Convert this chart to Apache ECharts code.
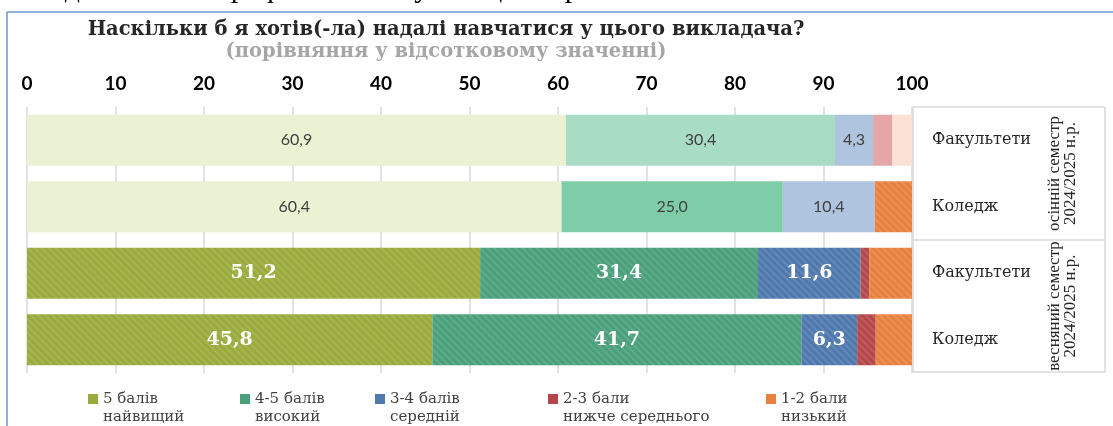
<!DOCTYPE html>
<html>
<head>
<meta charset="utf-8">
<script src="https://cdn.jsdelivr.net/npm/echarts@6/dist/echarts.min.js"></script>
<style>
  html, body { margin: 0; padding: 0; background: #fff; }
  #chart { width: 1113px; height: 426px; }
</style>
</head>
<body>
<div id="chart"></div>
<script>
// категорії (рядки зверху вниз)
const rowLabels = ['Факультети', 'Коледж', 'Факультети', 'Коледж']
const semesters = ['осінній семестр\n2024/2025 н.р.', 'весняний семестр\n2024/2025 н.р.']
const xTicks = [0, 10, 20, 30, 40, 50, 60, 70, 80, 90, 100]

// оцінки
const grades = [
  '5 балів\nнайвищий',
  '4-5 балів\nвисокий',
  '3-4 балів\nсередній',
  '2-3 бали\nнижче середнього',
  '1-2 бали\nнизький'
]
const grade5 = [60.9, 60.4, 51.2, 45.8]
const grade45 = [30.4, 25.0, 31.4, 41.7]
const grade34 = [4.3, 10.4, 11.6, 6.3]
const grade23 = [2.2, 0, 1.0, 2.1]
const grade12 = [2.2, 4.2, 4.8, 4.1]
const values = [grade5, grade45, grade34, grade23, grade12]

// кольори
const springColors = ['#9aab3b', '#4aa07a', '#4f78ad', '#b5474a', '#e8813f']
const autumnFacultyColors = ['#ebf1d3', '#a9dcc5', '#aec4df', '#e4a6a6', '#f9e1d3']
const autumnCollegeColors = ['#ebf1d3', '#7fcca8', '#aec4df', '#e4a6a6', '#e8813f']
const rowColors = [autumnFacultyColors, autumnCollegeColors, springColors, springColors]

const stripes = {
  symbol: 'rect',
  symbolSize: 1,
  color: 'rgba(255,255,255,0.12)',
  dashArrayX: [1, 0],
  dashArrayY: [2, 3],
  rotation: Math.PI / 4
}

const fmt = v => v.toFixed(1).replace('.', ',')

const chart = echarts.init(document.getElementById('chart'))

const series = grades.map((name, s) => ({
  name: name,
  type: 'bar',
  stack: 'total',
  barWidth: 51,
  color: springColors[s],
  data: values[s].map((v, r) => {
    const spring = r >= 2
    const hatched = spring || rowColors[r][s] === '#e8813f'
    return {
      value: v,
      itemStyle: {
        color: rowColors[r][s],
        decal: hatched ? stripes : null
      },
      label: {
        show: s < 3,
        formatter: p => fmt(p.value),
        color: spring ? '#fff' : '#404040',
        fontFamily: spring ? 'DejaVu Serif' : 'Lato',
        fontWeight: spring ? 'bold' : 'normal',
        fontSize: spring ? 19 : 16
      }
    }
  })
}))

const legends = grades.map((name, i) => ({
  data: [name],
  left: [88, 240, 375, 548, 766][i],
  top: 390,
  padding: 0,
  itemWidth: 10,
  itemHeight: 28,
  icon: 'path://M0,0H10V10H0Z M0,28',
  textStyle: {
    fontFamily: 'DejaVu Serif',
    fontSize: 15,
    lineHeight: 18,
    color: '#404040'
  }
}))

const gL = 913, gR = 1105, gT = 107, gM = 240, gB = 372
const boxLine = (x1, y1, x2, y2) => ({
  type: 'line',
  shape: { x1, y1, x2, y2 },
  style: { stroke: '#d9d9d9', lineWidth: 1.5 }
})

chart.setOption({
  backgroundColor: '#fff',
  animation: false,
  title: {
    text: 'Наскільки б я хотів(-ла) надалі навчатися у цього викладача?',
    subtext: '(порівняння у відсотковому значенні)',
    left: 446,
    top: 20,
    textAlign: 'center',
    padding: 0,
    itemGap: 2,
    textStyle: { fontFamily: 'DejaVu Serif', fontWeight: 'bold', fontSize: 19.5, color: '#262626' },
    subtextStyle: { fontFamily: 'DejaVu Serif', fontWeight: 'bold', fontSize: 19.5, color: '#a6a6a6' }
  },
  legend: legends,
  grid: { left: 27, right: 201, top: 107, bottom: 53 },
  xAxis: {
    type: 'value',
    position: 'top',
    min: xTicks[0],
    max: xTicks[xTicks.length - 1],
    interval: 10,
    axisLine: { show: false },
    axisTick: { show: false },
    axisLabel: { margin: 14, fontFamily: 'Lato', fontWeight: 'bold', fontSize: 19, color: '#000' },
    splitLine: { lineStyle: { color: '#d9d9d9', width: 1.5 } }
  },
  yAxis: {
    type: 'category',
    inverse: true,
    position: 'right',
    data: rowLabels,
    axisLine: { show: false },
    axisTick: { show: false },
    axisLabel: { margin: 20, align: 'left', fontFamily: 'DejaVu Serif', fontSize: 16, color: '#262626' }
  },
  graphic: [
    {
      type: 'text', x: -2, y: -11,
      style: { text: 'ання до чинного професіоналізму та оцінки роботи.', font: '30px "Liberation Serif"', fill: '#000', verticalAlign: 'middle' }
    },
    { type: 'line', shape: { x1: 7, y1: 12, x2: 1113, y2: 12 }, style: { stroke: '#6f95d6', lineWidth: 1.5 } },
    { type: 'line', shape: { x1: 7, y1: 12, x2: 7, y2: 426 }, style: { stroke: '#6f95d6', lineWidth: 1.5 } },
    boxLine(gL, gT, gR, gT),
    boxLine(gL, gM, gR, gM),
    boxLine(gL, gB, gR, gB),
    boxLine(gL, gT, gL, gB),
    boxLine(gR, gT, gR, gB),
    {
      type: 'text', x: 1063, y: (gT + gM) / 2, rotation: Math.PI / 2,
      style: { text: semesters[0], font: '17px "Liberation Serif"', fill: '#262626', align: 'center', verticalAlign: 'middle', lineHeight: 16 }
    },
    {
      type: 'text', x: 1063, y: (gM + gB) / 2, rotation: Math.PI / 2,
      style: { text: semesters[1], font: '17px "Liberation Serif"', fill: '#262626', align: 'center', verticalAlign: 'middle', lineHeight: 16 }
    }
  ],
  series: series
})
</script>
</body>
</html>
